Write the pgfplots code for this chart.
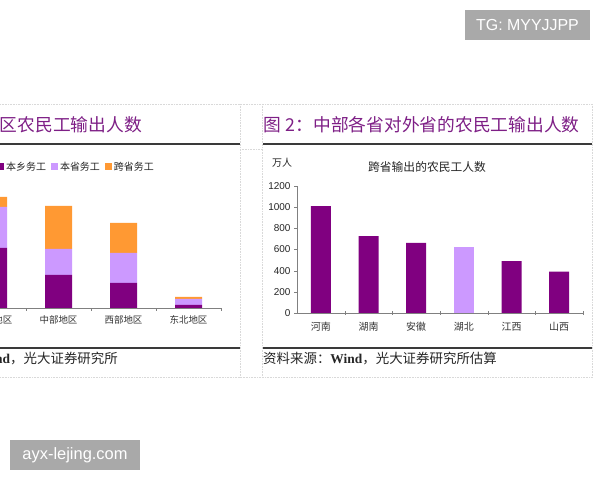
\documentclass[border=0pt]{standalone}
\usepackage{pgfplots}
\pgfplotsset{compat=1.18}
\usepackage{fontspec}
\setmainfont{Liberation Serif}
\newfontfamily\cjk{Noto Sans CJK SC}
\newfontfamily\arial{Liberation Sans}
\definecolor{cpurple}{HTML}{800080}
\definecolor{clav}{HTML}{CC99FF}
\definecolor{corange}{HTML}{FF9933}
\definecolor{tpurple}{HTML}{7E1F86}
\definecolor{wmgray}{HTML}{A9A9A9}
\definecolor{linegray}{HTML}{3A3A3A}
\begin{document}
\begin{tikzpicture}[x=1bp,y=1bp]
\useasboundingbox (0,0) rectangle (600,480);
\fill[white] (0,0) rectangle (600,480);
\clip (0,0) rectangle (600,480);
% frame dotted lines
\begin{scope}[gray!30, densely dotted, line width=0.6bp]
\draw (0,376) -- (592,376);
\draw (0,103) -- (592,103);
\draw (240,376) -- (240,103);
\draw (262,376) -- (262,103);
\draw (592,376) -- (592,103);
\draw (240,331) -- (262,331);
\end{scope}
% title / source rules
\draw[linegray, line width=1.2bp] (0,336) -- (240,336);
\draw[linegray, line width=1.2bp] (263,336) -- (592,336);
\draw[linegray, line width=1.2bp] (0,132) -- (240,132);
\draw[linegray, line width=1.2bp] (263,132) -- (592,132);
% titles
\node[anchor=east, inner sep=0pt, text=tpurple, font=\cjk\fontsize{17.8}{20}\selectfont] at (142,355) {图\hspace{5bp}1：各地区农民工输出人数};
\node[anchor=west, inner sep=0pt, text=tpurple, font=\cjk\fontsize{17.8}{20}\selectfont] at (263,355) {图\hspace{5bp}2：中部各省对外省的农民工输出人数};
% sources
\node[anchor=east, inner sep=0pt, font=\cjk\fontsize{13.5}{15}\selectfont, text=black!85] at (118,121) {资料来源：{\rmfamily\bfseries Wind}，光大证券研究所};
\node[anchor=west, inner sep=0pt, font=\cjk\fontsize{13.5}{15}\selectfont, text=black!85] at (263,121) {资料来源：{\rmfamily\bfseries Wind}，光大证券研究所估算};
% right chart texts
\node[inner sep=0pt, font=\cjk\fontsize{11.8}{14}\selectfont, text=black!85] at (427,313) {跨省输出的农民工人数};
\node[inner sep=0pt, font=\cjk\fontsize{10}{12}\selectfont, text=black!85] at (282,317) {万人};

% left stacked chart
\begin{axis}[
  at={(-39bp,172bp)}, anchor=south west, scale only axis,
  width=260bp, height=133.33bp,
  xmin=-0.5, xmax=3.5, ymin=0, ymax=12000,
  ybar stacked, bar width=27bp,
  axis x line*=bottom, axis y line=none,
  axis line style={draw=gray, line width=0.6bp},
  xtick={0,1,2,3},
  xticklabels={东部地区,中部地区,西部地区,东北地区},
  x tick label style={font=\cjk\fontsize{9.5}{11}\selectfont, text=black!80, yshift=-4bp},
  xtick style={draw=none},
  extra x ticks={0.5,1.5,2.5,3.5},
  extra x tick labels={},
  extra x tick style={xtick style={draw=gray}, tick align=outside, major tick length=3bp},
  legend columns=3,
  legend style={at={(0.1385,1.06)}, anchor=west, draw=none, fill=none,
    font=\cjk\fontsize{10}{12}\selectfont, text=black!85, inner sep=0pt,
    /tikz/every even column/.append style={column sep=3bp}},
  legend image code/.code={\fill[#1] (0bp,-3.5bp) rectangle (7bp,3.5bp);},
]
\addplot[fill=cpurple, draw=none] coordinates {(0,5400) (1,2970) (2,2250) (3,270)};
\addplot[fill=clav, draw=none] coordinates {(0,3690) (1,2340) (2,2700) (3,540)};
\addplot[fill=corange, draw=none] coordinates {(0,900) (1,3870) (2,2700) (3,180)};
\legend{本乡务工,本省务工,跨省务工}
\end{axis}

% right bar chart
\begin{axis}[
  at={(297bp,167bp)}, anchor=south west, scale only axis,
  width=286bp, height=127bp,
  xmin=-0.5, xmax=5.5, ymin=0, ymax=1200,
  axis lines*=left,
  axis line style={draw=gray, line width=0.6bp},
  ytick={0,200,...,1200},
  y tick label style={font=\arial\fontsize{10}{12}\selectfont, text=black!85},
  /pgf/number format/assume math mode=true,
  /pgf/number format/1000 sep={},
  ytick style={draw=gray}, tick align=outside, major tick length=3bp,
  xtick={0,...,5},
  xticklabels={河南,湖南,安徽,湖北,江西,山西},
  x tick label style={font=\cjk\fontsize{10}{12}\selectfont, text=black!80, yshift=-3bp},
  xtick style={draw=none},
  extra x ticks={0.5,1.5,2.5,3.5,4.5,5.5},
  extra x tick labels={},
  extra x tick style={xtick style={draw=gray}, tick align=center, major tick length=4bp},
]
\addplot[ybar, bar width=20bp, bar shift=0pt, fill=cpurple, draw=none] coordinates {(0,1010) (1,727) (2,662) (4,490) (5,390)};
\addplot[ybar, bar width=20bp, bar shift=0pt, fill=clav, draw=none] coordinates {(3,624)};
\end{axis}

% watermarks
\node[fill=wmgray, text=white, font=\arial\fontsize{16}{18}\selectfont, minimum width=125bp, minimum height=30bp, inner sep=0pt] at (527.5,455) {TG: MYYJJPP};
\node[fill=wmgray, text=white, font=\arial\fontsize{16.5}{18}\selectfont, minimum width=130bp, minimum height=30bp, inner sep=0pt] at (75,25) {ayx-lejing.com};
\end{tikzpicture}
\end{document}
